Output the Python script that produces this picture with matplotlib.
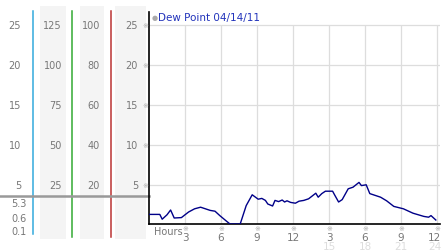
import numpy as np
from matplotlib import pyplot as plt
from matplotlib import transforms

# --- Data (hours since midnight, dew point) ---
hours = [0.0, 0.9, 1.1, 1.5, 1.8, 2.1, 2.7, 3.3, 3.8, 4.3, 5.1, 5.5, 5.9, 6.5, 6.75,
         7.6, 8.1, 8.6, 9.1, 9.4, 9.7, 9.9, 10.3, 10.5, 10.8, 11.1, 11.3, 11.5, 11.8,
         12.2, 12.5, 12.9, 13.3, 13.9, 14.1, 14.4, 14.7, 15.3, 15.5, 15.8, 16.1, 16.6,
         17.0, 17.5, 17.7, 18.1, 18.4, 19.3, 19.8, 20.4, 21.2, 22.0, 22.9, 23.3, 23.5,
         23.9]
dew = [1.3, 1.3, 0.7, 1.25, 1.85, 0.85, 0.9, 1.6, 2.0, 2.2, 1.8, 1.7, 1.15, 0.4, 0.1,
       0.1, 2.4, 3.75, 3.2, 3.3, 3.05, 2.6, 2.35, 3.05, 2.9, 3.1, 2.85, 3.0, 2.8,
       2.7, 2.95, 3.05, 3.25, 3.95, 3.45, 3.9, 4.2, 4.2, 3.65, 2.85, 3.15, 4.5,
       4.7, 5.3, 4.9, 5.0, 3.9, 3.45, 3.0, 2.3, 2.0, 1.45, 1.05, 0.95, 1.15,
       0.6]

title = 'Dew Point 04/14/11'
y_ticks = [5, 10, 15, 20, 25]
col2_labels = ['25', '50', '75', '100', '125']
col3_labels = ['20', '40', '60', '80', '100']
x_ticks = [3, 6, 9, 12, 15, 18, 21, 24]
x_labels = ['3', '6', '9', '12', '3', '6', '9', '12']
x_labels2 = ['15', '18', '21', '24']

W, H = 442, 253
fig = plt.figure(figsize=(W / 100, H / 100), dpi=100)
fig.patch.set_facecolor('white')


def fx(px):
    return px / W


def fy(py):
    return 1 - py / H


ax = fig.add_axes([fx(149), fy(225), fx(440) - fx(149), fy(13) - fy(225)])
ax.set_xlim(0, 24.25)
ax.set_ylim(0.1, 26.6)
ax.set_facecolor('none')

# grid
grid_c = '#dddddd'
ax.hlines(y_ticks, 0, 24.25, color=grid_c, lw=0.9, zorder=1)
ax.vlines(x_ticks, 0.1, 25, color=grid_c, lw=0.9, zorder=1)

ax.plot(hours, dew, color='#000088', lw=1.0, zorder=3)

for s in ['top', 'right']:
    ax.spines[s].set_visible(False)
for s in ['left', 'bottom']:
    ax.spines[s].set_color('black')
    ax.spines[s].set_linewidth(1.2)
ax.set_xticks([])
ax.set_yticks([])

# title
ax.text(0.5, 26.0, '\u25CF', color='#aaaaaa', fontsize=5, va='center', ha='center')
ax.text(0.75, 26.0, title, color='#2233bb', fontsize=7.5, va='center', ha='left')

# left panel (x in figure px, y on the axis scale)
bt = transforms.blended_transform_factory(fig.transFigure, ax.transData)
fig_ax = fig.add_axes([0, 0, 1, 1], zorder=-1)
fig_ax.set_xlim(0, W)
fig_ax.set_ylim(H, 0)
fig_ax.axis('off')

band_c = '#f4f4f4'
for x0, x1 in [(40, 66), (80, 104), (115, 146)]:
    fig_ax.fill_between([x0, x1], 7, 240, color=band_c, lw=0)
fig_ax.plot([33, 33], [12, 235], color='#33aadd', lw=1.1)
fig_ax.plot([72, 72], [12, 238], color='#33aa33', lw=1.1)
fig_ax.plot([111, 111], [12, 238], color='#bb3333', lw=1.1)
fig_ax.plot([0, 149], [197, 197], color='#999999', lw=1.8)

lab_c = '#777777'
mark_c = '#aaaaaa'
for i, v in enumerate(y_ticks):
    fig.text(fx(21), v, str(v), transform=bt, ha='right', va='center', fontsize=7, color=lab_c)
    fig.text(fx(62), v, col2_labels[i], transform=bt, ha='right', va='center', fontsize=7, color=lab_c)
    fig.text(fx(100), v, col3_labels[i], transform=bt, ha='right', va='center', fontsize=7, color=lab_c)
    fig.text(fx(138), v, str(v), transform=bt, ha='right', va='center', fontsize=7, color=lab_c)
    fig.text(fx(145.5), v, '\u203B', transform=bt, ha='center', va='center', fontsize=5, color=mark_c)

stats = [max(dew), dew[-1], min(dew)]
for py, v in zip([204, 219, 232], stats):
    fig.text(fx(27), fy(py), f'{v:.1f}', ha='right', va='center', fontsize=7, color=lab_c)

# x labels
bx = transforms.blended_transform_factory(ax.transData, fig.transFigure)
fig.text(fx(154), fy(232), 'Hours', ha='left', va='center', fontsize=7, color=lab_c)
for h, lab in zip(x_ticks, x_labels):
    fig.text(h, fy(229), '\u203B', transform=bx, ha='center', va='center', fontsize=5, color=mark_c)
    if h == x_ticks[-1]:
        fig.text(fx(441), fy(238.5), lab, ha='right', va='center', fontsize=7.5, color=lab_c)
    else:
        fig.text(h, fy(238.5), lab, transform=bx, ha='center', va='center', fontsize=7.5, color=lab_c)
for h, lab in zip(x_ticks[4:], x_labels2):
    if h == x_ticks[-1]:
        fig.text(fx(441.5), fy(247), lab, ha='right', va='center', fontsize=7.5, color='#dddddd')
    else:
        fig.text(h, fy(247), lab, transform=bx, ha='center', va='center', fontsize=7.5, color='#dddddd')

fig.savefig('out.png', dpi=100)
